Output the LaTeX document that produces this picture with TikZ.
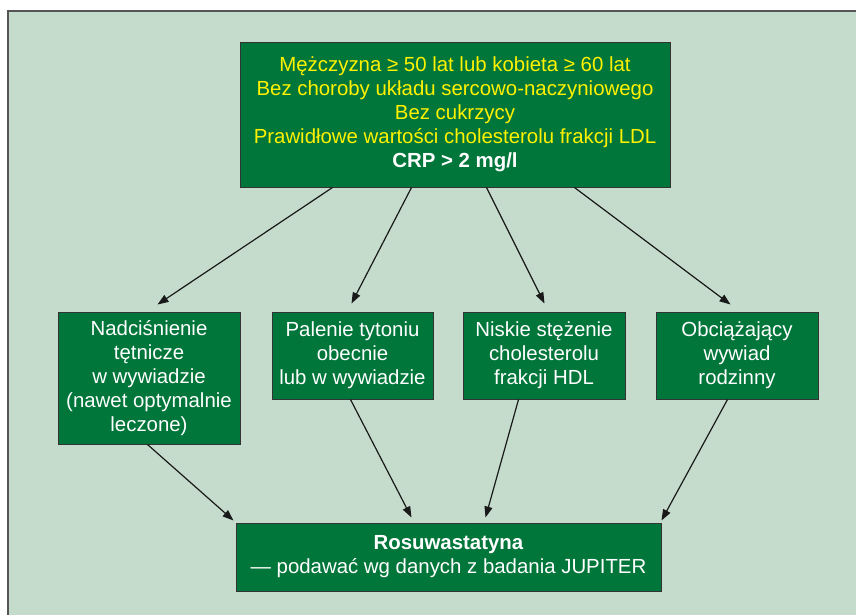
\documentclass[tikz,border=0pt]{standalone}
\usepackage{fontspec}
\setmainfont{Liberation Sans}
\usetikzlibrary{arrows.meta,calc}
\definecolor{bggreen}{HTML}{C5DCCD}
\definecolor{boxgreen}{HTML}{00763A}
\definecolor{ytext}{HTML}{FFF200}
\definecolor{frameg}{HTML}{555555}
\tikzset{
  gbox/.style={draw=black!80, line width=1pt, fill=boxgreen, text=white, align=center,
    font=\fontsize{20.4}{24}\selectfont, inner sep=0pt, anchor=center},
  conn/.style={draw=black!90, line width=1.2pt, -{Triangle[length=11pt,width=8pt]}},
}
\begin{document}
\begin{tikzpicture}[x=1pt,y=-1pt]
\clip (0,0) rectangle (856,614);
\fill[white] (0,0) rectangle (856,614);
\draw[frameg, line width=2pt, fill=bggreen] (8,11) rectangle (880,640);

\node[gbox, minimum width=430pt, minimum height=145pt] (top) at (455,114.5)
  {\textcolor{ytext}{Mężczyzna ≥ 50 lat lub kobieta ≥ 60 lat}\\
   \textcolor{ytext}{Bez choroby układu sercowo-naczyniowego}\\
   \textcolor{ytext}{Bez cukrzycy}\\
   \textcolor{ytext}{Prawidłowe wartości cholesterolu frakcji LDL}\\
   \textbf{CRP > 2 mg/l}};

\node[gbox, minimum width=182pt, minimum height=132pt] (b1) at (149,378)
  {Nadciśnienie\\tętnicze\\w wywiadzie\\(nawet optymalnie\\leczone)};
\node[gbox, minimum width=161pt, minimum height=87pt] (b2) at (352.5,355.5)
  {Palenie tytoniu\\obecnie\\lub w wywiadzie};
\node[gbox, minimum width=162pt, minimum height=87pt] (b3) at (544,355.5)
  {Niskie stężenie\\cholesterolu\\frakcji HDL};
\node[gbox, minimum width=162pt, minimum height=87pt] (b4) at (737,355.5)
  {Obciążający\\wywiad\\rodzinny};

\node[gbox, minimum width=425pt, minimum height=68pt] (bot) at (448.5,557)
  {\textbf{Rosuwastatyna}\\— podawać wg danych z badania JUPITER};

\draw[conn] ([xshift=93pt]top.south west) -- ([xshift=100pt,yshift=7pt]b1.north west);
\draw[conn] ([xshift=172pt]top.south west) -- ([xshift=80pt,yshift=8pt]b2.north west);
\draw[conn] ([xshift=247pt]top.south west) -- ([xshift=82pt,yshift=8pt]b3.north west);
\draw[conn] ([xshift=335pt]top.south west) -- ([xshift=75pt,yshift=7pt]b4.north west);

\draw[conn] ([xshift=90pt]b1.south west) -- ([xshift=-2pt,yshift=2pt]bot.north west);
\draw[conn] ([xshift=79pt]b2.south west) -- ([xshift=176pt,yshift=5pt]bot.north west);
\draw[conn] ([xshift=56pt]b3.south west) -- ([xshift=250pt,yshift=5pt]bot.north west);
\draw[conn] ([xshift=72pt]b4.south west) -- ([xshift=0pt,yshift=2pt]bot.north east);
\end{tikzpicture}
\end{document}
